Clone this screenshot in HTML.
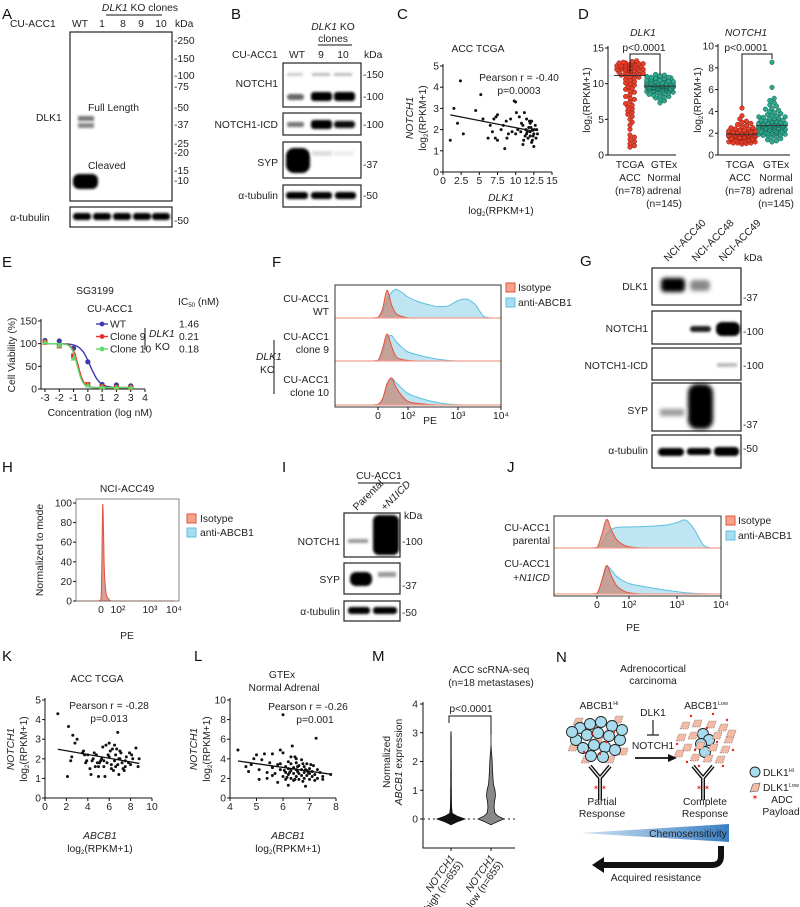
<!DOCTYPE html>
<html><head><meta charset="utf-8">
<style>
html,body{margin:0;padding:0;background:#fff;}
svg{display:block;font-family:"Liberation Sans",Arial,sans-serif;}
text{fill:#222;font-size:10.3px;}
.pl{font-size:15px;fill:#111;}
.it{font-style:italic;}
.ax{stroke:#111;stroke-width:1;fill:none;}
.bx{stroke:#222;stroke-width:1.2;fill:#fff;}
</style></head>
<body>
<svg id="fig" width="800" height="907" viewBox="0 0 800 907" xmlns="http://www.w3.org/2000/svg">
<defs>
<filter id="blur" x="-50%" y="-50%" width="200%" height="200%"><feGaussianBlur stdDeviation="1.4"/></filter>
<filter id="blur2" x="-50%" y="-50%" width="200%" height="200%"><feGaussianBlur stdDeviation="2.2"/></filter>
<linearGradient id="wedge" x1="0" x2="1" y1="0" y2="0"><stop offset="0" stop-color="#cfe3f4"/><stop offset="1" stop-color="#3a7fc4"/></linearGradient>
</defs>

<!-- ===== Panel A ===== -->
<g>
<text class="pl" x="2" y="19">A</text>
<text x="10" y="27">CU-ACC1</text>
<text x="80" y="27" text-anchor="middle">WT</text>
<text x="102" y="27" text-anchor="middle">1</text>
<text x="123" y="27" text-anchor="middle">8</text>
<text x="141" y="27" text-anchor="middle">9</text>
<text x="161" y="27" text-anchor="middle">10</text>
<text x="175" y="27">kDa</text>
<text x="140" y="11" text-anchor="middle"><tspan class="it">DLK1</tspan> KO clones</text>
<line x1="106" y1="15" x2="162" y2="15" class="ax"/>
<rect x="70" y="32" width="102" height="169" class="bx"/>
<rect x="78" y="116" width="16" height="5" fill="#777" filter="url(#blur)"/>
<rect x="78" y="123" width="16" height="5" fill="#888" filter="url(#blur)"/>
<rect x="73" y="174" width="25" height="15" rx="6" fill="#000" filter="url(#blur)"/>
<text x="88" y="111">Full Length</text>
<text x="88" y="169">Cleaved</text>
<text x="36" y="121">DLK1</text>
<g>
<text x="174" y="44">-250</text><text x="174" y="62">-150</text><text x="174" y="79">-100</text><text x="174" y="90">-75</text>
<text x="174" y="111">-50</text><text x="174" y="128">-37</text><text x="174" y="147">-25</text><text x="174" y="156">-20</text>
<text x="174" y="174">-15</text><text x="174" y="184">-10</text></g>
<rect x="70" y="207" width="102" height="20" class="bx"/>
<g fill="#000" filter="url(#blur)">
<rect x="73" y="213" width="18" height="7" rx="3"/><rect x="93" y="213" width="18" height="7" rx="3"/><rect x="113" y="213" width="18" height="7" rx="3"/><rect x="133" y="213" width="18" height="7" rx="3"/><rect x="152" y="213" width="18" height="7" rx="3"/></g>
<text x="10" y="221">α-tubulin</text>
<text x="174" y="224">-50</text>
</g>

<!-- ===== Panel B ===== -->
<g>
<text class="pl" x="231" y="19">B</text>
<text x="333" y="30" text-anchor="middle"><tspan class="it">DLK1</tspan> KO</text>
<text x="333" y="42" text-anchor="middle">clones</text>
<line x1="318" y1="45" x2="352" y2="45" class="ax"/>
<text x="232" y="58">CU-ACC1</text>
<text x="297" y="58" text-anchor="middle">WT</text>
<text x="321" y="58" text-anchor="middle">9</text>
<text x="343" y="58" text-anchor="middle">10</text>
<text x="364" y="58">kDa</text>
<rect x="283" y="63" width="78" height="44" class="bx"/>
<g filter="url(#blur)">
<rect x="287" y="73" width="16" height="3" fill="#ccc"/><rect x="312" y="73" width="18" height="3" fill="#bbb"/><rect x="334" y="73" width="18" height="3" fill="#bbb"/>
<rect x="287" y="94" width="17" height="6" rx="3" fill="#666"/><rect x="311" y="92" width="21" height="9" rx="3" fill="#000"/><rect x="334" y="92" width="21" height="9" rx="3" fill="#000"/></g>
<text x="278" y="87" text-anchor="end">NOTCH1</text>
<text x="363" y="78">-150</text>
<text x="363" y="100">-100</text>
<rect x="283" y="113" width="78" height="22" class="bx"/>
<g filter="url(#blur)">
<rect x="287" y="122" width="17" height="5" rx="2" fill="#777"/><rect x="311" y="120" width="21" height="9" rx="3" fill="#000"/><rect x="334" y="121" width="21" height="7" rx="3" fill="#111"/></g>
<text x="278" y="128" text-anchor="end">NOTCH1-ICD</text>
<text x="363" y="128">-100</text>
<rect x="283" y="142" width="78" height="36" class="bx"/>
<g filter="url(#blur)">
<rect x="286" y="148" width="24" height="25" rx="8" fill="#000"/><rect x="312" y="151" width="20" height="5" fill="#ddd"/><rect x="334" y="151" width="20" height="5" fill="#eee"/></g>
<text x="278" y="166" text-anchor="end">SYP</text>
<text x="363" y="168">-37</text>
<rect x="283" y="185" width="78" height="22" class="bx"/>
<g filter="url(#blur)" fill="#000">
<rect x="286" y="192" width="22" height="7" rx="3"/><rect x="311" y="192" width="21" height="7" rx="3"/><rect x="335" y="192" width="21" height="7" rx="3"/></g>
<text x="278" y="199" text-anchor="end">α-tubulin</text>
<text x="363" y="199">-50</text>
</g>

<!-- ===== Panel C ===== -->
<g id="panelC">
<text class="pl" x="397" y="19">C</text>
<text x="478" y="52" text-anchor="middle">ACC TCGA</text>
<text x="519" y="81" text-anchor="middle">Pearson r = -0.40</text>
<text x="519" y="94" text-anchor="middle">p=0.0003</text>
<text x="501" y="201" text-anchor="middle" class="it">DLK1</text>
<text x="501" y="214" text-anchor="middle">log<tspan font-size="6" dy="2">2</tspan><tspan dy="-2">(RPKM+1)</tspan></text>
<text transform="translate(413,118) rotate(-90)" text-anchor="middle" class="it">NOTCH1</text>
<text transform="translate(426,118) rotate(-90)" text-anchor="middle">log<tspan font-size="6" dy="2">2</tspan><tspan dy="-2">(RPKM+1)</tspan></text>
</g>

<!-- ===== Panel D ===== -->
<g id="panelD">
<text class="pl" x="578" y="19">D</text>
<text x="643" y="36" text-anchor="middle" class="it">DLK1</text>
<text x="746" y="36" text-anchor="middle" class="it">NOTCH1</text>
<text x="644" y="51" text-anchor="middle">p&lt;0.0001</text>
<text x="746" y="51" text-anchor="middle">p&lt;0.0001</text>
<text transform="translate(590,100) rotate(-90)" text-anchor="middle">log<tspan font-size="6" dy="2">2</tspan><tspan dy="-2">(RPKM+1)</tspan></text>
<text transform="translate(701,100) rotate(-90)" text-anchor="middle">log<tspan font-size="6" dy="2">2</tspan><tspan dy="-2">(RPKM+1)</tspan></text>
<g text-anchor="middle">
<text x="630" y="168">TCGA</text><text x="630" y="181">ACC</text><text x="630" y="194">(n=78)</text>
<text x="664" y="168">GTEx</text><text x="664" y="181">Normal</text><text x="664" y="194">adrenal</text><text x="664" y="207">(n=145)</text></g>
<g text-anchor="middle">
<text x="740" y="168">TCGA</text><text x="740" y="181">ACC</text><text x="740" y="194">(n=78)</text>
<text x="776" y="168">GTEx</text><text x="776" y="181">Normal</text><text x="776" y="194">adrenal</text><text x="776" y="207">(n=145)</text></g>
</g>

<!-- ===== Panel E ===== -->
<g id="panelE">
<text class="pl" x="2" y="267">E</text>
<text x="95" y="294" text-anchor="middle">SG3199</text>
<text x="110" y="312" text-anchor="middle">CU-ACC1</text>
<text x="178" y="305">IC<tspan font-size="6" dy="2">50</tspan><tspan dy="-2"> (nM)</tspan></text>
<line x1="145" y1="328" x2="145" y2="350" class="ax"/>
<text x="149" y="337" class="it">DLK1</text>
<text x="155" y="350">KO</text>
<text transform="translate(15,355) rotate(-90)" text-anchor="middle">Cell Viability (%)</text>
<text x="100" y="416" text-anchor="middle">Concentration (log nM)</text>
</g>

<!-- ===== Panel F ===== -->
<g id="panelF">
<text class="pl" x="272" y="267">F</text>
<g text-anchor="end">
<text x="329" y="302">CU-ACC1</text><text x="329" y="315">WT</text>
<text x="329" y="340">CU-ACC1</text><text x="329" y="353">clone 9</text>
<text x="329" y="383">CU-ACC1</text><text x="329" y="396">clone 10</text></g>
<line x1="274" y1="340" x2="274" y2="394" class="ax"/>
<text x="256" y="360" class="it">DLK1</text>
<text x="260" y="373">KO</text>
<text x="430" y="424" text-anchor="middle">PE</text>
<rect x="506" y="283" width="9" height="9" fill="#f2a58c" stroke="#e8503a"/>
<text x="518" y="291">Isotype</text>
<rect x="506" y="298" width="9" height="9" fill="#a9dcee" stroke="#5bc0e0"/>
<text x="518" y="306">anti-ABCB1</text>
</g>

<!-- ===== Panel G ===== -->
<g>
<text class="pl" x="580" y="266">G</text>
<text transform="translate(668,262) rotate(-45)">NCI-ACC40</text>
<text transform="translate(696,262) rotate(-45)">NCI-ACC48</text>
<text transform="translate(723,262) rotate(-45)">NCI-ACC49</text>
<text x="744" y="261">kDa</text>
<rect x="652" y="268" width="89" height="37" class="bx"/>
<g filter="url(#blur2)"><rect x="661" y="278" width="24" height="14" rx="4" fill="#000"/><rect x="690" y="280" width="20" height="11" rx="4" fill="#888"/></g>
<text x="648" y="290" text-anchor="end">DLK1</text>
<text x="743" y="301">-37</text>
<rect x="652" y="311" width="89" height="33" class="bx"/>
<g filter="url(#blur)"><rect x="690" y="326" width="21" height="6" rx="3" fill="#222"/><rect x="716" y="322" width="24" height="14" rx="6" fill="#000"/></g>
<text x="648" y="332" text-anchor="end">NOTCH1</text>
<text x="743" y="335">-100</text>
<rect x="652" y="348" width="89" height="32" class="bx"/>
<rect x="717" y="363" width="20" height="4" fill="#bbb" filter="url(#blur)"/>
<text x="648" y="369" text-anchor="end">NOTCH1-ICD</text>
<text x="743" y="369">-100</text>
<rect x="652" y="383" width="89" height="48" class="bx"/>
<g filter="url(#blur2)"><rect x="660" y="409" width="24" height="7" fill="#999"/><rect x="688" y="384" width="25" height="45" rx="9" fill="#000"/></g>
<text x="648" y="414" text-anchor="end">SYP</text>
<text x="743" y="428">-37</text>
<rect x="652" y="435" width="89" height="33" class="bx"/>
<g filter="url(#blur)" fill="#000"><rect x="658" y="448" width="26" height="8" rx="4"/><rect x="687" y="448" width="24" height="7" rx="3"/><rect x="714" y="447" width="25" height="9" rx="4"/></g>
<text x="648" y="454" text-anchor="end">α-tubulin</text>
<text x="743" y="452">-50</text>
</g>

<!-- ===== Panel H ===== -->
<g id="panelH">
<text class="pl" x="2" y="472">H</text>
<text x="127" y="492" text-anchor="middle">NCI-ACC49</text>
<text transform="translate(43,550) rotate(-90)" text-anchor="middle">Normalized to mode</text>
<text x="127" y="639" text-anchor="middle">PE</text>
<rect x="187" y="514" width="9" height="9" fill="#f2a58c" stroke="#e8503a"/>
<text x="200" y="522">Isotype</text>
<rect x="187" y="528" width="9" height="9" fill="#a9dcee" stroke="#5bc0e0"/>
<text x="200" y="536">anti-ABCB1</text>
</g>

<!-- ===== Panel I ===== -->
<g>
<text class="pl" x="282" y="472">I</text>
<text x="379" y="479" text-anchor="middle">CU-ACC1</text>
<line x1="358" y1="483" x2="400" y2="483" class="ax"/>
<text transform="translate(357,511) rotate(-45)">Parental</text>
<text transform="translate(385,511) rotate(-45)">+<tspan class="it">N1ICD</tspan></text>
<text x="404" y="519">kDa</text>
<rect x="344" y="513" width="56" height="44" class="bx"/>
<g filter="url(#blur)"><rect x="348" y="539" width="20" height="4" fill="#999"/><rect x="373" y="515" width="26" height="40" rx="6" fill="#000"/></g>
<text x="340" y="545" text-anchor="end">NOTCH1</text>
<text x="402" y="545">-100</text>
<rect x="344" y="563" width="56" height="31" class="bx"/>
<g filter="url(#blur)"><rect x="350" y="572" width="22" height="14" rx="6" fill="#000"/><rect x="378" y="572" width="18" height="5" fill="#999"/></g>
<text x="340" y="583" text-anchor="end">SYP</text>
<text x="402" y="589">-37</text>
<rect x="344" y="601" width="56" height="20" class="bx"/>
<g filter="url(#blur)" fill="#000"><rect x="348" y="607" width="22" height="7" rx="3"/><rect x="373" y="607" width="24" height="7" rx="3"/></g>
<text x="340" y="615" text-anchor="end">α-tubulin</text>
<text x="402" y="616">-50</text>
</g>

<!-- ===== Panel J ===== -->
<g id="panelJ">
<text class="pl" x="507" y="472">J</text>
<g text-anchor="end">
<text x="550" y="531">CU-ACC1</text><text x="550" y="544">parental</text>
<text x="550" y="567">CU-ACC1</text><text x="550" y="581">+<tspan class="it">N1ICD</tspan></text></g>
<text x="633" y="631" text-anchor="middle">PE</text>
<rect x="726" y="516" width="9" height="9" fill="#f2a58c" stroke="#e8503a"/>
<text x="738" y="524">Isotype</text>
<rect x="726" y="531" width="9" height="9" fill="#a9dcee" stroke="#5bc0e0"/>
<text x="738" y="539">anti-ABCB1</text>
</g>

<!-- ===== Panel K ===== -->
<g id="panelK">
<text class="pl" x="2" y="661">K</text>
<text x="97" y="682" text-anchor="middle">ACC TCGA</text>
<text x="109" y="709" text-anchor="middle">Pearson r = -0.28</text>
<text x="109" y="722" text-anchor="middle">p=0.013</text>
<text x="100" y="839" text-anchor="middle" class="it">ABCB1</text>
<text x="100" y="852" text-anchor="middle">log<tspan font-size="6" dy="2">2</tspan><tspan dy="-2">(RPKM+1)</tspan></text>
<text transform="translate(14,749) rotate(-90)" text-anchor="middle" class="it">NOTCH1</text>
<text transform="translate(27,749) rotate(-90)" text-anchor="middle">log<tspan font-size="6" dy="2">2</tspan><tspan dy="-2">(RPKM+1)</tspan></text>
</g>

<!-- ===== Panel L ===== -->
<g id="panelL">
<text class="pl" x="194" y="661">L</text>
<text x="282" y="678" text-anchor="middle">GTEx</text>
<text x="284" y="691" text-anchor="middle">Normal Adrenal</text>
<text x="308" y="710" text-anchor="middle">Pearson r = -0.26</text>
<text x="315" y="723" text-anchor="middle">p=0.001</text>
<text x="288" y="839" text-anchor="middle" class="it">ABCB1</text>
<text x="288" y="852" text-anchor="middle">log<tspan font-size="6" dy="2">2</tspan><tspan dy="-2">(RPKM+1)</tspan></text>
<text transform="translate(197,749) rotate(-90)" text-anchor="middle" class="it">NOTCH1</text>
<text transform="translate(210,749) rotate(-90)" text-anchor="middle">log<tspan font-size="6" dy="2">2</tspan><tspan dy="-2">(RPKM+1)</tspan></text>
</g>

<!-- ===== Panel M ===== -->
<g id="panelM">
<text class="pl" x="372" y="661">M</text>
<text x="491" y="673" text-anchor="middle">ACC scRNA-seq</text>
<text x="491" y="686" text-anchor="middle">(n=18 metastases)</text>
<text x="471" y="712" text-anchor="middle">p&lt;0.0001</text>
<text transform="translate(390,762) rotate(-90)" text-anchor="middle">Normalized</text>
<text transform="translate(402,762) rotate(-90)" text-anchor="middle"><tspan class="it">ABCB1</tspan> expression</text>
<text transform="translate(455,858) rotate(-55)" text-anchor="end"><tspan class="it">NOTCH1</tspan></text>
<text transform="translate(463,864) rotate(-55)" text-anchor="end">high (n=655)</text>
<text transform="translate(495,858) rotate(-55)" text-anchor="end"><tspan class="it">NOTCH1</tspan></text>
<text transform="translate(503,864) rotate(-55)" text-anchor="end">low (n=655)</text>
</g>

<!-- ===== Panel N ===== -->
<g id="panelN">
<text class="pl" x="556" y="662">N</text>
<text x="653" y="672" text-anchor="middle">Adrenocortical</text>
<text x="653" y="684" text-anchor="middle">carcinoma</text>
<text x="599" y="709" text-anchor="middle">ABCB1<tspan font-size="5.5" dy="-4">Hi</tspan></text>
<text x="706" y="709" text-anchor="middle">ABCB1<tspan font-size="5.5" dy="-4">Low</tspan></text>
<text x="653" y="716" text-anchor="middle">DLK1</text>
<path d="M653 720 V735 M647 735 H659" stroke="#222" stroke-width="1.2" fill="none"/>
<text x="653" y="749" text-anchor="middle">NOTCH1</text>
<path d="M635 758 H670" stroke="#111" stroke-width="1.8"/>
<path d="M668 754 L677 758 L668 762 Z" fill="#111"/>
<g id="clusters"></g>
<g>
<path d="M590 766 L600 778 L610 766 M600 778 V800" stroke="#111" stroke-width="4" fill="none"/>
<path d="M590 766 L600 778 L610 766 M600 778 V800" stroke="#fff" stroke-width="1.2" fill="none"/>
<text x="600" y="790" text-anchor="middle" style="fill:#e22;font-size:7px">✶ ✶</text></g>
<g>
<path d="M693 766 L703 778 L713 766 M703 778 V800" stroke="#111" stroke-width="4" fill="none"/>
<path d="M693 766 L703 778 L713 766 M703 778 V800" stroke="#fff" stroke-width="1.2" fill="none"/>
<text x="703" y="790" text-anchor="middle" style="fill:#e22;font-size:7px">✶ ✶</text></g>
<text x="602" y="805" text-anchor="middle">Partial</text>
<text x="602" y="817" text-anchor="middle">Response</text>
<text x="705" y="805" text-anchor="middle">Complete</text>
<text x="705" y="817" text-anchor="middle">Response</text>
<polygon points="581,833 729,824 729,842" fill="url(#wedge)"/>
<text x="688" y="837" text-anchor="middle">Chemosensitivity</text>
<path d="M721 846 V856 Q721 865 712 865 H602" stroke="#111" stroke-width="6" fill="none"/>
<path d="M604 857 L592 865 L604 873 Z" fill="#111"/>
<text x="656" y="881" text-anchor="middle">Acquired resistance</text>
<circle cx="755" cy="772" r="5" fill="#a8dcec" stroke="#222" stroke-width="0.9"/>
<text x="763" y="776">DLK1<tspan font-size="5.5" dy="-4">Hi</tspan></text>
<path d="M750 792 L753 784 L760 783 L758 791 Z" fill="#f4bca6" stroke="#555" stroke-width="0.6"/>
<text x="763" y="791">DLK1<tspan font-size="5.5" dy="-4">Low</tspan></text>
<text x="755" y="800" text-anchor="middle" style="fill:#e22;font-size:8px">✶</text>
<text x="782" y="803" text-anchor="middle">ADC</text>
<text x="781" y="815" text-anchor="middle">Payload</text>
</g>
</svg>

<script>
// ---------------- DATA ----------------
const cPoints = [[1,1.5],[1.5,3.0],[2,2.3],[2.4,4.3],[2.8,1.8],[4.5,2.9],[5.2,3.65],[5.5,2.5],[6.5,2.2],[6.8,1.9],[7,2.5],[7.3,2.6],[7.5,2.7],[6.2,1.6],[7.2,1.6],[7.5,1.5],[8,2.0],[8.3,2.2],[8.5,1.1],[8.8,1.6],[9,1.8],[9.5,1.9],[9.8,3.35],[10,3.3],[10.1,2.8],[10.3,2.0],[10.5,2.6],[10.7,1.9],[11,2.2],[11,1.3],[11.2,2.8],[11.5,1.8],[11.5,2.5],[11.7,1.6],[11.8,2.1],[12,2.3],[12,1.9],[12,1.7],[12.2,2.4],[12.3,1.5],[12.3,2.0],[12.5,1.2],[12.5,1.8],[12.7,2.2],[12.8,1.6],[13,1.8],[11.3,1.7],[11.6,1.9],[12.1,2.1],[12.4,1.7],[11.9,2.4],[11.4,2.0],[10.8,2.3],[9.3,2.5],[8.7,2.4],[12.6,2.0],[12.9,2.0],[11.1,1.5],[12.2,1.4],[10,1.8]];
const cXTicks = [0,2.5,5,7.5,10,12.5,15];
const cYTicks = [0,1,2,3,4,5];

const dDlk1Tcga = [13.2,13.1,13,12.9,12.9,12.8,12.8,12.7,12.7,12.6,12.6,12.5,12.5,12.4,12.4,12.3,12.3,12.2,12.2,12.1,12.1,12,12,11.9,11.9,11.8,11.8,11.7,11.6,11.5,11.5,11.4,11.3,11.2,11.1,11,10.9,10.8,10.6,10.5,10.3,10.1,10,9.8,9.6,9.4,9.2,9,8.8,8.5,8.2,8,7.8,7.5,7.2,7,6.8,6.5,6.2,6,5.7,5.4,5,4.6,4.2,3.6,2.8,2.5,2.2,1.9,1.6,1.3,1.1,12.6,12.4,12.0,11.6,13.0];
const dDlk1Gtex = [11.3,11.2,11.1,11.0,11.0,10.9,10.9,10.8,10.8,10.7,10.7,10.6,10.6,10.5,10.5,10.5,10.4,10.4,10.4,10.3,10.3,10.3,10.2,10.2,10.2,10.1,10.1,10.1,10.0,10.0,10.0,10.0,9.9,9.9,9.9,9.9,9.8,9.8,9.8,9.8,9.7,9.7,9.7,9.7,9.7,9.6,9.6,9.6,9.6,9.6,9.5,9.5,9.5,9.5,9.5,9.4,9.4,9.4,9.4,9.3,9.3,9.3,9.3,9.2,9.2,9.2,9.1,9.1,9.1,9.0,9.0,9.0,8.9,8.9,8.8,8.8,8.7,8.7,8.6,8.5,8.4,8.3,8.2,8.1,8.0,7.8,7.6,7.3,9.65,9.55,9.75,9.45,9.85,9.35,9.6,9.7,9.5,9.8,9.4,10.05,9.15];
const dNotchTcga = [4.3,3.6,3.3,3.1,3.0,2.9,2.8,2.7,2.6,2.6,2.5,2.5,2.4,2.4,2.3,2.3,2.3,2.2,2.2,2.2,2.1,2.1,2.1,2.1,2.0,2.0,2.0,2.0,2.0,1.9,1.9,1.9,1.9,1.9,1.8,1.8,1.8,1.8,1.8,1.7,1.7,1.7,1.7,1.6,1.6,1.6,1.6,1.5,1.5,1.5,1.5,1.4,1.4,1.4,1.3,1.3,1.3,1.2,1.2,1.2,1.1,1.1,1.1,1.0,2.05,1.95,1.85,1.75,2.15,1.65,2.25,1.55,2.35,1.45,2.45,1.05,2.0,1.9];
const dNotchGtex = [8.5,6.2,5.2,5.0,4.8,4.6,4.5,4.3,4.2,4.1,4.0,3.9,3.8,3.7,3.6,3.6,3.5,3.5,3.4,3.4,3.3,3.3,3.2,3.2,3.1,3.1,3.1,3.0,3.0,3.0,2.9,2.9,2.9,2.9,2.8,2.8,2.8,2.8,2.7,2.7,2.7,2.7,2.7,2.6,2.6,2.6,2.6,2.6,2.5,2.5,2.5,2.5,2.4,2.4,2.4,2.4,2.3,2.3,2.3,2.3,2.2,2.2,2.2,2.1,2.1,2.1,2.0,2.0,2.0,1.9,1.9,1.8,1.8,1.7,1.6,1.5,1.4,1.3,1.2,2.75,2.65,2.55,2.85,2.45,2.95,2.35,3.05,2.25,2.7,2.6,2.8,2.5,3.15,2.15,3.25,2.05,3.35,1.95,3.45,1.85];
const dDlk1Ticks = [0,5,10,15];
const dNotchTicks = [0,2,4,6,8,10];

const eConc = [-3,-2,-1,0,1,2,3];
const eWT = [107,106,90,60,10,9,7];
const eClone9 = [103,95,73,10,5,3,3];
const eClone10 = [103,96,67,8,4,3,3];
const eIC50 = [1.46,0.21,0.18];
const eSeries = ['WT','Clone 9','Clone 10'];
const eXTicks = [-3,-2,-1,0,1,2,3,4];
const eYTicks = [0,50,100,150];

const peTickLabels = ['0','10²','10³','10⁴'];
const histGrid = [-1.5,-0.5,-0.25,0,0.15,0.3,0.45,0.6,0.8,1.0,1.2,1.4,1.6,1.8,2.0,2.2,2.4,2.6,2.8,3.0];
const fWtIso   = [0,0,0,0.02,0.3,0.92,0.45,0.15,0.05,0.01,0,0,0,0,0,0,0,0,0,0];
const fWtAbcb1 = [0,0,0,0.02,0.2,0.6,0.85,0.95,0.85,0.7,0.55,0.45,0.38,0.4,0.58,0.63,0.45,0.05,0,0];
const fC9Iso   = [0,0,0,0.02,0.4,0.9,0.5,0.15,0.05,0.02,0,0,0,0,0,0,0,0,0,0];
const fC9Abcb1 = [0,0,0,0.02,0.3,0.75,0.85,0.65,0.45,0.3,0.2,0.12,0.06,0.02,0,0,0,0,0,0];
const fC10Iso  = [0,0,0,0.02,0.2,0.7,0.9,0.6,0.3,0.12,0.05,0.02,0,0,0,0,0,0,0,0];
const fC10Abcb1= [0,0,0,0.02,0.2,0.65,0.88,0.75,0.55,0.38,0.25,0.15,0.08,0.03,0.01,0,0,0,0,0];
const jParIso   = [0,0,0,0.02,0.45,0.95,0.6,0.3,0.12,0.04,0.01,0,0,0,0,0,0,0,0,0];
const jParAbcb1 = [0,0,0,0.02,0.15,0.45,0.62,0.68,0.7,0.7,0.71,0.72,0.74,0.77,0.85,0.93,0.6,0.1,0,0];
const jN1Iso    = [0,0,0,0.02,0.45,0.95,0.6,0.3,0.12,0.04,0.01,0,0,0,0,0,0,0,0,0];
const jN1Abcb1  = [0,0,0,0.02,0.4,0.88,0.8,0.6,0.45,0.35,0.28,0.22,0.17,0.12,0.08,0.04,0.02,0.01,0,0];
const hGrid = [-1.5,-0.3,-0.15,0,0.05,0.1,0.15,0.2,0.3,0.45,0.6,1,2,3];
const hIso  = [0,0,0,2,40,98,70,30,8,2,0,0,0,0];
const hYTicks = [0,20,40,60,80,100];

const kPoints = [[1.2,4.3],[2.1,1.1],[2.2,3.65],[2.4,1.9],[2.5,2.1],[2.6,3.2],[2.8,2.8],[3,3.0],[3.5,2.3],[3.6,2.4],[3.8,1.8],[4,2.2],[4.2,1.5],[4.3,1.2],[4.5,2.0],[4.6,2.3],[4.7,1.6],[4.8,2.2],[5,1.1],[5,1.6],[5.2,1.9],[5.3,2.0],[5.5,1.6],[5.5,1.9],[5.6,1.1],[5.7,2.7],[5.8,1.8],[6,2.8],[6,2.1],[6.1,2.4],[6.2,1.7],[6.3,2.5],[6.4,1.4],[6.5,2.7],[6.5,1.9],[6.6,2.2],[6.7,2.5],[6.8,3.35],[6.8,1.7],[6.9,1.2],[7,2.0],[7,2.4],[7.2,1.8],[7.3,1.5],[7.5,1.9],[7.5,1.6],[7.6,2.1],[7.8,1.8],[8,1.7],[8.2,2.0],[8.5,2.55],[8.7,1.6],[8.8,2.0],[5.9,2.2],[4.9,1.8],[3.9,1.9],[6.2,1.5],[7.1,2.3],[5.4,2.6],[4.4,1.9],[7.9,2.3],[6.6,1.6],[5.1,1.8],[3.7,2.2],[6.9,2.0],[8.1,2.2],[7.4,1.4]];
const kXTicks = [0,2,4,6,8,10];
const kYTicks = [0,1,2,3,4,5];
const lPoints = [[4.3,4.9],[4.6,3.2],[4.7,2.7],[4.8,3.4],[4.9,4.0],[5,4.4],[5.1,2.9],[5.1,1.9],[5.2,3.9],[5.3,4.5],[5.4,2.0],[5.5,3.6],[5.6,4.5],[5.6,3.1],[5.7,2.5],[5.8,3.4],[5.8,1.6],[5.9,4.9],[5.9,2.9],[6,4.6],[6,2.2],[6,8.5],[6.1,3.2],[6.1,2.6],[6.1,1.9],[6.2,3.0],[6.2,2.4],[6.2,1.3],[6.3,4.2],[6.3,3.5],[6.3,2.8],[6.3,2.0],[6.35,5.3],[6.4,3.1],[6.4,2.5],[6.4,1.8],[6.45,4.2],[6.5,3.6],[6.5,2.9],[6.5,2.2],[6.55,2.7],[6.6,3.3],[6.6,2.5],[6.6,1.9],[6.7,3.9],[6.7,2.9],[6.7,2.3],[6.75,1.7],[6.8,3.2],[6.8,2.6],[6.8,2.0],[6.85,1.2],[6.9,2.8],[6.9,2.3],[6.9,3.5],[7,3.0],[7,2.5],[7,1.9],[7.1,2.7],[7.1,2.2],[7.15,3.3],[7.2,2.4],[7.2,1.8],[7.25,6.1],[7.3,2.9],[7.3,2.0],[7.4,2.6],[7.5,1.9],[7.5,2.2],[7.8,2.4],[6.2,3.7],[6.5,4.0],[5.9,3.5],[6.15,2.1],[6.45,1.9],[6.75,3.5],[6.95,2.6],[7.05,3.4],[6.25,2.6],[6.55,3.2],[6.85,2.9],[5.4,2.6],[5.6,2.3],[6.05,2.8]];
const lXTicks = [4,5,6,7,8];
const lYTicks = [0,2,4,6,8,10];

const mGrid = [-0.2,-0.1,0,0.1,0.2,0.4,0.6,0.8,1.0,1.2,1.4,1.6,1.8,2.0,2.2,2.4,2.6,2.8,3.0,3.05];
const mHigh = [0,6,14,6,1.2,0.6,0.5,0.4,0.4,0.3,0.3,0.3,0.25,0.25,0.2,0.2,0.2,0.2,0.15,0];
const mLow  = [0,6,13,7,4,3,3.5,4.5,4,2.5,2,1.7,1.4,1.2,0.8,0.3,0,0,0,0];
const mYTicks = [0,1,2,3,4];

// ---------------- HELPERS ----------------
const NS = 'http://www.w3.org/2000/svg';
const svg = document.getElementById('fig');
function mk(tag, attrs, parent){
  const e = document.createElementNS(NS, tag);
  for (const k in attrs) e.setAttribute(k, attrs[k]);
  (parent || svg).appendChild(e);
  return e;
}
function lin(d0,d1,r0,r1){ return v => r0 + (v-d0)*(r1-r0)/(d1-d0); }
function txt(x,y,s,anchor,parent){
  const t = mk('text',{x:x,y:y,'text-anchor':anchor||'middle'},parent);
  t.textContent = s;
  return t;
}
function axesXY(g, sx, sy, xt, yt, x0, y0, xEnd, yEnd, xFmt){
  const ax = mk('path',{d:`M${x0} ${yEnd} V${y0} H${xEnd}`,class:'ax'},g);
  
  
  xt.forEach(v=>{
    const tk = mk('line',{x1:sx(v),x2:sx(v),y1:y0,y2:y0+3,class:'ax'},g);
    
    
    const tl = txt(sx(v), y0+12, xFmt?xFmt(v):String(v), 'middle', g);
    
    
  });
  yt.forEach(v=>{
    const tk = mk('line',{x1:x0-3,x2:x0,y1:sy(v),y2:sy(v),class:'ax'},g);
    
    
    const tl = txt(x0-4, sy(v)+3.5, String(v), 'end', g);
    
    
  });
}
function scatter(g, pts, sx, sy, x0, x1){
  pts.forEach(p=>{
    const c = mk('circle',{cx:sx(p[0]),cy:sy(p[1]),r:1.5,fill:'#111'},g);
    
    
  });
  const n=pts.length; let mx=0,my=0; pts.forEach(p=>{mx+=p[0];my+=p[1];}); mx/=n; my/=n;
  let sxy=0,sxx=0; pts.forEach(p=>{sxy+=(p[0]-mx)*(p[1]-my); sxx+=(p[0]-mx)*(p[0]-mx);});
  const b=sxy/sxx, a=my-b*mx;
  const ln = mk('line',{x1:sx(x0),y1:sy(a+b*x0),x2:sx(x1),y2:sy(a+b*x1),stroke:'#111','stroke-width':1.3},g);
  
  
}
function smoothPath(P){
  let d = `M${P[0][0]} ${P[0][1]}`;
  for(let i=0;i<P.length-1;i++){
    const p0=P[Math.max(0,i-1)],p1=P[i],p2=P[i+1],p3=P[Math.min(P.length-1,i+2)];
    const c1=[p1[0]+(p2[0]-p0[0])/6, p1[1]+(p2[1]-p0[1])/6];
    const c2=[p2[0]-(p3[0]-p1[0])/6, p2[1]-(p3[1]-p1[1])/6];
    d += ` C${c1[0]} ${Math.min(c1[1],Math.max(p1[1],p2[1]))} ${c2[0]} ${Math.min(c2[1],Math.max(p1[1],p2[1]))} ${p2[0]} ${p2[1]}`;
  }
  return d;
}
function peMap(ticksPx){
  return t => {
    if (t<=0) return ticksPx[0] + t*(ticksPx[1]-ticksPx[0]);
    const i=Math.min(2,Math.floor(t)); return ticksPx[i] + (t-i)*(ticksPx[i+1]-ticksPx[i]);
  };
}
function histo(g, grid, vals, tx, base, scale, fill, stroke, xL, xR){
  const P = grid.map((t,i)=>[Math.max(xL,Math.min(xR,tx(t))), base - vals[i]*scale]);
  let d = smoothPath(P) + ` L${P[P.length-1][0]} ${base} L${P[0][0]} ${base} Z`;
  const p = mk('path',{d:d,fill:fill,stroke:stroke,'stroke-width':1,'fill-opacity':0.75},g);
  return p;
}

// ---------------- PANEL C ----------------
(function(){
  const g = document.getElementById('panelC');
  const sx = lin(0,15,443,552), sy = lin(0,5,172,66);
  axesXY(g, sx, sy, cXTicks, cYTicks, 443, 172, 552, 64);
  scatter(g, cPoints, sx, sy, 1, 12.5);
})();

// ---------------- PANEL D ----------------
function swarm(g, vals, cx, sy, color, stroke){
  const r=2.3, maxOff=15, placed=[];
  [...vals].sort((a,b)=>a-b).forEach(v=>{
    const y=sy(v); let best=cx, bestCnt=1e9;
    for(let k=0;k<30;k++){
      const off = (k===0)?0:Math.ceil(k/2)*2.2*(k%2?1:-1);
      if(Math.abs(off)>maxOff) break;
      const x=cx+off;
      const cnt = placed.filter(p=>(p[0]-x)**2+(p[1]-y)**2 < (r*1.5)**2).length;
      if(cnt<bestCnt){bestCnt=cnt;best=x;}
      if(cnt===0) break;
    }
    placed.push([best,y]);
    const c = mk('circle',{cx:best,cy:y,r:r,fill:color,stroke:stroke,'stroke-width':0.5},g);
    
    
  });
}
function median(a){const s=[...a].sort((x,y)=>x-y);const m=s.length>>1;return s.length%2?s[m]:(s[m-1]+s[m])/2;}
(function(){
  const g = document.getElementById('panelD');
  const sy1 = lin(0,15,155,48);
  axesXY(g, v=>v, sy1, [], dDlk1Ticks, 608, 155, 676, 46);
  const sy2 = lin(0,10,155,46);
  axesXY(g, v=>v, sy2, [], dNotchTicks, 718, 155, 790, 44);
  swarm(g, dDlk1Tcga, 630, sy1, '#e8402a', '#8a1a10');
  swarm(g, dDlk1Gtex, 660, sy1, '#2fa88e', '#145e4e');
  swarm(g, dNotchTcga, 742, sy2, '#e8402a', '#8a1a10');
  swarm(g, dNotchGtex, 772, sy2, '#2fa88e', '#145e4e');
  [[630,median(dDlk1Tcga),sy1],[660,median(dDlk1Gtex),sy1],[742,median(dNotchTcga),sy2],[772,median(dNotchGtex),sy2]].forEach(m=>{
    const l = mk('line',{x1:m[0]-16,x2:m[0]+16,y1:m[2](m[1]),y2:m[2](m[1]),stroke:'#333','stroke-width':1},g);
    
    
  });
  const b1 = mk('path',{d:`M630 ${sy1(11.5)} V54 H660 V${sy1(11.3)}`,class:'ax','stroke-width':0.8},g);
  
  
  const b2 = mk('path',{d:`M742 ${sy2(4.5)} V54 H772 V${sy2(8.8)}`,class:'ax','stroke-width':0.8},g);
  
  
})();

// ---------------- PANEL E ----------------
(function(){
  const g = document.getElementById('panelE');
  const sx = lin(-3,4,45,145), sy = lin(0,150,389,321);
  axesXY(g, sx, sy, eXTicks, eYTicks, 41, 389, 145, 319);
  const colors = ['#3b3bb0','#e8302a','#5ddc6a'];
  const hills = [1.3,2.2,2.2];
  const dataSets = [eWT,eClone9,eClone10];
  dataSets.forEach((ds,si)=>{
    const lic = Math.log10(eIC50[si]);
    let d='';
    for(let v=-3; v<=3.21; v+=0.05){
      const p = 3 + 97/(1+Math.pow(10,(v-lic)*hills[si]));
      d += (d?' L':'M') + sx(v).toFixed(1)+' '+sy(p).toFixed(1);
    }
    const c = mk('path',{d:d,fill:'none',stroke:colors[si],'stroke-width':1.4},g);
    
    
    ds.forEach((val,i)=>{
      let m;
      if(si===0) m = mk('circle',{cx:sx(eConc[i]),cy:sy(val),r:2.6,fill:colors[si]},g);
      else if(si===1) m = mk('rect',{x:sx(eConc[i])-2.5,y:sy(val)-2.5,width:5,height:5,fill:colors[si]},g);
      else m = mk('path',{d:`M${sx(eConc[i])} ${sy(val)-3} L${sx(eConc[i])+3} ${sy(val)+2} L${sx(eConc[i])-3} ${sy(val)+2} Z`,fill:colors[si]},g);
      
      
    });
    const ly = 324 + si*12.5;
    const ll = mk('line',{x1:96,x2:108,y1:ly,y2:ly,stroke:colors[si],'stroke-width':1.4},g);
    
    
    const lm = mk('circle',{cx:102,cy:ly,r:2.4,fill:colors[si]},g);
    
    
    const lt = txt(110, ly+3.5, eSeries[si], 'start', g);
    
    
    const it = txt(199, ly+3.5, eIC50[si].toFixed(2), 'end', g);
    
    
  });
})();

// ---------------- FLOW PANELS ----------------
function flowPanel(g, box, ticksPx, rows){
  const tx = peMap(ticksPx);
  rows.forEach(r=>{
    const h1 = histo(g, histGrid, r.abcb1, tx, r.base, 30, '#a9dcee', '#5bc0e0', box.x0, box.x1);
    
    
    const h2 = histo(g, histGrid, r.iso, tx, r.base, 30, '#c88a7a', '#e8503a', box.x0, box.x1);
    
    
    const bl = mk('line',{x1:box.x0,x2:box.x1,y1:r.base,y2:r.base,stroke:'#f0a090','stroke-width':1.2},g);
    
    
  });
  const fr = mk('rect',{x:box.x0,y:box.y0,width:box.x1-box.x0,height:box.y1-box.y0,fill:'none',stroke:'#333','stroke-width':1},g);
  
  
  ticksPx.forEach((px,i)=>{
    const tk = mk('line',{x1:px,x2:px,y1:box.y1,y2:box.y1+3,class:'ax'},g);
    
    
    const tl = txt(px, box.y1+12, peTickLabels[i], 'middle', g);
    
    
  });
}
flowPanel(document.getElementById('panelF'), {x0:335,x1:501,y0:285,y1:407}, [378,408,458,501], [
  {base:318, iso:fWtIso, abcb1:fWtAbcb1},
  {base:361, iso:fC9Iso, abcb1:fC9Abcb1},
  {base:405, iso:fC10Iso, abcb1:fC10Abcb1}]);
flowPanel(document.getElementById('panelJ'), {x0:554,x1:721,y0:516,y1:596}, [597,629,677,721], [
  {base:548, iso:jParIso, abcb1:jParAbcb1},
  {base:594, iso:jN1Iso, abcb1:jN1Abcb1}]);

// ---------------- PANEL H ----------------
(function(){
  const g = document.getElementById('panelH');
  const ticksPx=[101,118,150,174];
  const tx = peMap(ticksPx);
  const sy = lin(0,100,601,503);
  const P = hGrid.map((t,i)=>[Math.max(76,tx(t)), sy(hIso[i])]);
  const h = mk('path',{d:smoothPath(P)+` L${P[P.length-1][0]} 601 L${P[0][0]} 601 Z`,fill:'#c88a7a','fill-opacity':0.8,stroke:'#e8503a','stroke-width':1},g);
  
  
  const fr = mk('rect',{x:76,y:499,width:103,height:102,fill:'none',stroke:'#666','stroke-width':0.8},g);
  
  
  hYTicks.forEach(v=>{
    const tk = mk('line',{x1:73,x2:76,y1:sy(v),y2:sy(v),class:'ax'},g);
    
    
    const tl = txt(72, sy(v)+3.5, String(v), 'end', g);
    
    
  });
  ticksPx.forEach((px,i)=>{
    const tl = txt(px, 613, peTickLabels[i], 'middle', g);
    
    
  });
})();

// ---------------- PANELS K, L ----------------
(function(){
  const g = document.getElementById('panelK');
  const sx = lin(0,10,45,152), sy = lin(0,5,798,700);
  axesXY(g, sx, sy, kXTicks, kYTicks, 45, 798, 152, 698);
  scatter(g, kPoints, sx, sy, 1.2, 8.8);
})();
(function(){
  const g = document.getElementById('panelL');
  const sx = lin(4,8,230,336), sy = lin(0,10,798,700);
  axesXY(g, sx, sy, lXTicks, lYTicks, 230, 798, 336, 698);
  scatter(g, lPoints, sx, sy, 4.3, 7.8);
})();

// ---------------- PANEL M ----------------
(function(){
  const g = document.getElementById('panelM');
  const sy = lin(0,4,819,704);
  const ax = mk('path',{d:'M423 702 V848 H515',class:'ax'},g);
  
  
  mYTicks.forEach(v=>{
    const tk = mk('line',{x1:420,x2:423,y1:sy(v),y2:sy(v),class:'ax'},g);
    
    
    const tl = txt(418, sy(v)+3.5, String(v), 'end', g);
    
    
  });
  const dl = mk('line',{x1:423,x2:515,y1:sy(0),y2:sy(0),stroke:'#222','stroke-dasharray':'2,3','stroke-width':1},g);
  
  
  [[451,mHigh,'#111'],[491,mLow,'#888']].forEach((c,ci)=>{
    const R = mGrid.map((v,i)=>[c[0]+c[1][i], sy(v)]);
    const L = mGrid.map((v,i)=>[c[0]-c[1][i], sy(v)]).reverse();
    let d='M'+R.map(p=>p[0].toFixed(1)+' '+p[1].toFixed(1)).join(' L')+' L'+L.map(p=>p[0].toFixed(1)+' '+p[1].toFixed(1)).join(' L')+' Z';
    const v = mk('path',{d:d,fill:c[2],stroke:'#111','stroke-width':0.8},g);
    
    
    const tk = mk('line',{x1:c[0],x2:c[0],y1:848,y2:851,class:'ax'},g);
    
    
  });
  const br = mk('path',{d:'M449 723 V716 H491 V735',class:'ax','stroke-width':0.8},g);
  
  
})();

// ---------------- PANEL N illustration ----------------
const nHiCircles = [[-18,-10],[-8,-14],[3,-16],[14,-12],[-22,2],[-11,-3],[0,-5],[11,-2],[22,2],[-15,10],[-4,7],[7,9],[17,12],[-7,18],[5,19],[-26,-6],[24,-8]];
const nHiPink = [[-20,-16],[20,-18],[-25,10],[25,14],[-12,22],[12,22],[0,2],[-5,-8]];
const nLowPink = [[-20,-14],[-8,-16],[6,-15],[18,-12],[-24,-2],[-12,-4],[12,-4],[24,0],[-18,8],[-5,6],[8,8],[20,10],[-10,18],[3,19],[15,20],[-26,14],[26,-6]];
const nLowCircles = [[-2,-6],[4,0],[-4,4],[0,12]];
const nLowStars = [[-14,-24],[8,-26],[22,-20],[-28,4],[28,10],[-6,26],[18,26],[-18,22],[2,-12],[-10,10],[12,2]];
(function(){
  const g = document.getElementById('clusters');
  function pink(cx,cy){
    const p = mk('path',{d:`M${cx-5} ${cy+3} L${cx-2} ${cy-4} L${cx+5} ${cy-4} L${cx+3} ${cy+3} Z`,fill:'#f4bca6',stroke:'#555','stroke-width':0.6,'stroke-dasharray':'1,1'},g);
    
    
  }
  function circ(cx,cy){
    const c = mk('circle',{cx:cx,cy:cy,r:5.5,fill:'#a8dcec',stroke:'#222','stroke-width':0.9},g);
    
    
  }
  function star(cx,cy){
    const s = mk('circle',{cx:cx,cy:cy,r:1.2,fill:'#e22'},g);
    
    
  }
  nHiPink.forEach(p=>pink(598+p[0],738+p[1]));
  nHiCircles.forEach(p=>circ(598+p[0],738+p[1]));
  [[-6,-4],[8,4],[-14,14],[16,-6],[2,16]].forEach(p=>star(598+p[0],738+p[1]));
  nLowCircles.forEach(p=>circ(705+p[0],740+p[1]));
  nLowPink.forEach(p=>pink(705+p[0],740+p[1]));
  nLowStars.forEach(p=>star(705+p[0],740+p[1]));
})();
</script>
</body></html>
